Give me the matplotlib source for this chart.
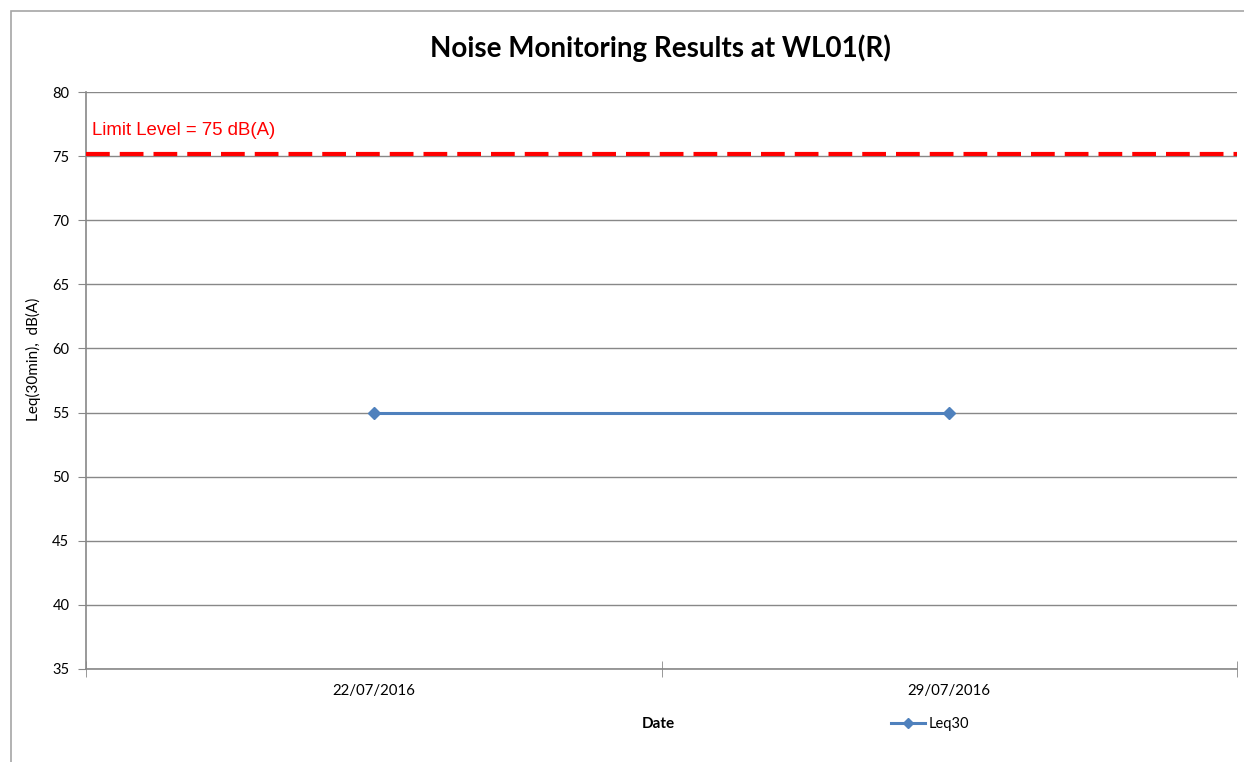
import matplotlib.pyplot as plt
from matplotlib.lines import Line2D
from matplotlib.patches import Rectangle

# ---------- data ----------
dates = ["22/07/2016", "29/07/2016"]
leq30 = [55, 55]
limit_level = 75.15
limit_text = "Limit Level = 75 dB(A)"

blue = "#4F81BD"
grey = "#888888"
red = "#FF0000"
font = ["Lato", "DejaVu Sans"]

# ---------- canvas ----------
fig = plt.figure(figsize=(12.44, 7.62), dpi=100)
fig.patch.set_facecolor("white")
# outer chart border (Excel chart area)
fig.patches.append(Rectangle((11 / 1244, -0.05), 1.2, 1 - 10.5 / 762 + 0.05,
                             transform=fig.transFigure, fill=False,
                             edgecolor="#a6a6a6", lw=1.2))

ax = fig.add_axes([86 / 1244, 1 - 669 / 762, (1237 - 86) / 1244, (669 - 92) / 762])
x = list(range(len(dates)))

ax.plot(x, leq30, color=blue, lw=2.2, marker="D", ms=6, label="Leq30", zorder=3)
ax.axhline(limit_level, color=red, lw=3, dashes=(5.7, 2.4), zorder=4)
ax.text(-0.489, 76.3, limit_text, color=red, fontsize=13.4,
        family=["Liberation Sans", "DejaVu Sans"], ha="left", va="bottom")

ax.set_xlim(-0.5, len(dates) - 0.5)
ax.set_ylim(35, 80)
ax.set_yticks(range(35, 81, 5))
ax.set_xticks(x)
ax.set_xticklabels(dates)
ax.set_xticks([i - 0.5 for i in range(len(dates) + 1)], minor=True)
ax.tick_params(axis="x", which="major", length=0, pad=11)
ax.tick_params(axis="x", which="minor", length=12, direction="inout", color=grey)
ax.tick_params(axis="y", length=6, color=grey, pad=6)
for lab in ax.get_xticklabels():
    lab.set_family(font)
    lab.set_fontsize(10.8)
for lab in ax.get_yticklabels():
    lab.set_family(font)
    lab.set_fontsize(10.5)

ax.grid(axis="y", color=grey, lw=1)
ax.set_axisbelow(True)
for s in ["top", "right"]:
    ax.spines[s].set_visible(False)
for s in ["left", "bottom"]:
    ax.spines[s].set_color(grey)
    ax.spines[s].set_linewidth(1.2)

fig.text(33 / 1244, 1 - 359 / 762, "Leq(30min),  dB(A)", family=font,
         fontsize=11, rotation=90, ha="center", va="center")
fig.text(658 / 1244, 1 - 724 / 762, "Date", family=font, fontsize=11,
         fontweight="bold", ha="center", va="center")
fig.text(660 / 1244, 1 - 48 / 762, "Noise Monitoring Results at WL01(R)",
         family=font, fontsize=20, fontweight="bold", ha="center", va="center")

handle = Line2D([], [], color=blue, lw=2.2, marker="D", ms=5)
leg = fig.legend([handle], ["Leq30"], loc="center left",
                 bbox_to_anchor=(878 / 1244, 1 - 724 / 762), frameon=False,
                 prop={"family": font, "size": 10.5}, handlelength=2.3,
                 handletextpad=0.3)

fig.savefig("out.png", dpi=100, facecolor="white")
